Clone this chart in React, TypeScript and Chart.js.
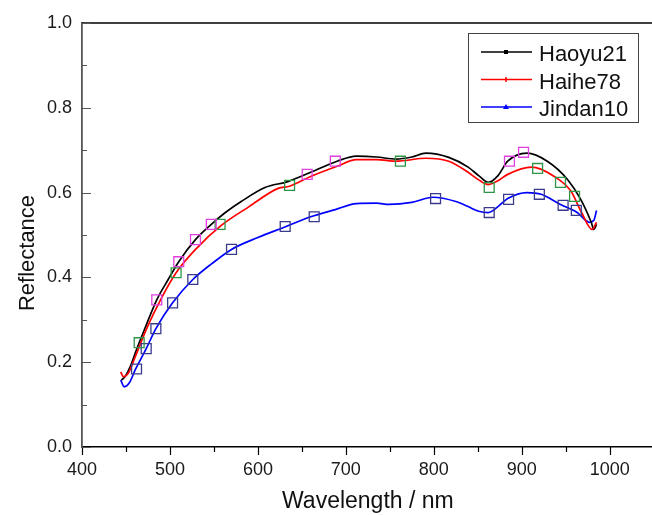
import { useEffect, useRef } from 'react';
import { Chart, registerables } from 'chart.js';

Chart.register(...registerables);

// ---- data (wavelength nm, reflectance) ----
const HAOYU_WL = [445, 449, 455, 462, 471, 485, 498, 510, 529, 547, 563, 581, 608, 634, 660, 690, 712, 735, 757, 775, 791, 817, 839, 851, 862, 873, 884, 906, 929, 952, 967, 979, 982, 985];
const HAOYU_R = [0.158, 0.166, 0.19, 0.23, 0.277, 0.347, 0.395, 0.437, 0.489, 0.525, 0.553, 0.579, 0.612, 0.626, 0.648, 0.674, 0.686, 0.684, 0.679, 0.684, 0.693, 0.683, 0.66, 0.64, 0.624, 0.64, 0.674, 0.693, 0.674, 0.631, 0.584, 0.53, 0.513, 0.525];

const HAIHE_WL = [444, 447, 452, 460, 473, 490, 507, 530, 558, 590, 623, 636, 660, 690, 712, 735, 757, 791, 817, 839, 851, 862, 873, 884, 911, 937, 956, 968, 980, 985];
const HAIHE_R = [0.177, 0.166, 0.172, 0.21, 0.277, 0.35, 0.411, 0.468, 0.522, 0.567, 0.61, 0.615, 0.638, 0.662, 0.678, 0.678, 0.674, 0.681, 0.674, 0.648, 0.63, 0.619, 0.628, 0.643, 0.66, 0.638, 0.603, 0.553, 0.513, 0.53];

const JINDAN_WL = [444, 448, 454, 461, 473, 484, 503, 526, 548, 570, 600, 632, 660, 688, 712, 735, 749, 775, 799, 825, 839, 851, 862, 873, 884, 906, 922, 944, 963, 977, 982, 985];
const JINDAN_R = [0.158, 0.142, 0.152, 0.184, 0.232, 0.279, 0.34, 0.395, 0.433, 0.466, 0.494, 0.52, 0.543, 0.56, 0.574, 0.575, 0.572, 0.577, 0.589, 0.579, 0.567, 0.556, 0.553, 0.567, 0.586, 0.6, 0.596, 0.572, 0.553, 0.53, 0.535, 0.558];

// hollow square markers
const PINK_WL = [485, 510, 529, 547, 656, 688, 886, 902];
const PINK_R = [0.347, 0.437, 0.489, 0.525, 0.643, 0.674, 0.674, 0.695];
const GREEN_WL = [465, 507, 557, 636, 762, 863, 918, 944, 960];
const GREEN_R = [0.246, 0.411, 0.525, 0.617, 0.674, 0.612, 0.657, 0.624, 0.591];
const NAVY_WL = [462, 473, 484, 503, 526, 570, 631, 664, 802, 863, 885, 920, 947, 962];
const NAVY_R = [0.184, 0.232, 0.279, 0.34, 0.395, 0.466, 0.52, 0.543, 0.586, 0.553, 0.584, 0.596, 0.57, 0.558];

const X_TICKS = [400, 500, 600, 700, 800, 900, 1000];
const X_MINOR = [450, 550, 650, 750, 850, 950, 1050];
const Y_TICKS = [0, 0.2, 0.4, 0.6, 0.8, 1.0];
const Y_MINOR = [0.1, 0.3, 0.5, 0.7, 0.9];

const SERIES_NAMES = ['Haoyu21', 'Haihe78', 'Jindan10'];
const SERIES_COLORS = ['#000000', '#ff0000', '#0000ff'];

const FONT = '"Liberation Sans", Arial, sans-serif';

const zip = (xs: number[], ys: number[]) => xs.map((x, i) => ({ x, y: ys[i] }));

const framePlugin = {
  id: 'frame',
  afterDraw(chart: any) {
    const { ctx, chartArea: a, scales } = chart;
    const xs = scales.x;
    const ys = scales.y;
    ctx.save();
    // top frame line
    ctx.strokeStyle = '#000';
    ctx.lineWidth = 1.5;
    ctx.beginPath();
    ctx.moveTo(a.left, a.top);
    ctx.lineTo(a.right, a.top);
    ctx.stroke();
    // x ticks (outward)
    ctx.lineWidth = 1.2;
    ctx.beginPath();
    X_TICKS.forEach((v) => {
      const p = Math.round(xs.getPixelForValue(v)) + 0.5;
      ctx.moveTo(p, a.bottom);
      ctx.lineTo(p, a.bottom + 8);
    });
    X_MINOR.forEach((v) => {
      const p = Math.round(xs.getPixelForValue(v)) + 0.5;
      ctx.moveTo(p, a.bottom);
      ctx.lineTo(p, a.bottom + 5);
    });
    ctx.stroke();
    // y ticks (inward)
    ctx.strokeStyle = '#555';
    ctx.beginPath();
    Y_TICKS.forEach((v) => {
      const p = Math.round(ys.getPixelForValue(v)) + 0.5;
      ctx.moveTo(a.left, p);
      ctx.lineTo(a.left + 9, p);
    });
    Y_MINOR.forEach((v) => {
      const p = Math.round(ys.getPixelForValue(v)) + 0.5;
      ctx.moveTo(a.left, p);
      ctx.lineTo(a.left + 5, p);
    });
    ctx.stroke();

    // y title
    ctx.save();
    ctx.fillStyle = '#111';
    ctx.font = `22px ${FONT}`;
    ctx.translate(a.left - 54, (a.top + a.bottom) / 2 + 18);
    ctx.rotate(-Math.PI / 2);
    ctx.textAlign = 'center';
    ctx.textBaseline = 'middle';
    ctx.fillText('Reflectance', 0, 0);
    ctx.restore();

    // legend
    const bx = 468.5, by = 33.5, bw = 170, bh = 89;
    ctx.fillStyle = '#fff';
    ctx.fillRect(bx, by, bw, bh);
    ctx.strokeStyle = '#444';
    ctx.lineWidth = 1;
    ctx.strokeRect(bx, by, bw, bh);
    ctx.font = `22px ${FONT}`;
    ctx.textAlign = 'left';
    ctx.textBaseline = 'alphabetic';
    SERIES_NAMES.forEach((name, i) => {
      const ly = 52 + i * 27.5;
      const col = SERIES_COLORS[i];
      ctx.strokeStyle = col;
      ctx.lineWidth = 1.5;
      ctx.beginPath();
      ctx.moveTo(481, ly);
      ctx.lineTo(532, ly);
      ctx.stroke();
      ctx.fillStyle = col;
      const mx = 506;
      if (i === 0) {
        ctx.fillRect(mx - 2, ly - 2, 4, 4);
      } else if (i === 1) {
        ctx.fillRect(mx - 0.75, ly - 2.5, 1.5, 5);
      } else {
        ctx.beginPath();
        ctx.moveTo(mx, ly - 3);
        ctx.lineTo(mx + 3, ly + 2);
        ctx.lineTo(mx - 3, ly + 2);
        ctx.closePath();
        ctx.fill();
      }
      ctx.fillStyle = '#111';
      ctx.fillText(name, 539, ly + 9);
    });
    ctx.restore();
  },
};

export default function App() {
  const ref = useRef<HTMLCanvasElement | null>(null);

  useEffect(() => {
    if (!ref.current) return;
    const lineDs = (i: number, xs: number[], ys: number[]) => ({
      type: 'line' as const,
      label: SERIES_NAMES[i],
      data: zip(xs, ys),
      borderColor: SERIES_COLORS[i],
      backgroundColor: SERIES_COLORS[i],
      borderWidth: 1.7,
      pointRadius: 0,
      cubicInterpolationMode: 'monotone' as const,
      fill: false,
    });
    const sqDs = (label: string, color: string, xs: number[], ys: number[]) => ({
      type: 'line' as const,
      label,
      data: zip(xs, ys),
      showLine: false,
      pointStyle: 'rect' as const,
      pointRadius: 7,
      pointBorderWidth: 1.3,
      pointBorderColor: color,
      pointBackgroundColor: 'rgba(0,0,0,0)',
      borderColor: color,
      backgroundColor: 'rgba(0,0,0,0)',
    });

    const chart = new Chart(ref.current, {
      type: 'line',
      data: {
        datasets: [
          sqDs('pink', '#e040e0', PINK_WL, PINK_R),
          sqDs('green', '#2e9446', GREEN_WL, GREEN_R),
          sqDs('navy', '#3a3a8c', NAVY_WL, NAVY_R),
          lineDs(1, HAIHE_WL, HAIHE_R),
          lineDs(0, HAOYU_WL, HAOYU_R),
          lineDs(2, JINDAN_WL, JINDAN_R),
        ] as any,
      },
      options: {
        animation: false,
        responsive: false,
        devicePixelRatio: 1,
        layout: { padding: { top: 23, right: 1.5, left: 0, bottom: 0 } },
        plugins: { legend: { display: false }, tooltip: { enabled: false } },
        scales: {
          x: {
            type: 'linear',
            min: 400,
            max: 1050,
            grid: { display: false, drawTicks: false },
            border: { display: true, color: '#000', width: 1.5 },
            afterBuildTicks: (s: any) => {
              s.ticks = X_TICKS.map((value) => ({ value }));
            },
            afterFit: (s: any) => {
              s.height = 68;
            },
            ticks: {
              padding: 12,
              color: '#1a1a1a',
              font: { family: FONT, size: 18 },
              maxRotation: 0,
              callback: (v: any) => String(v),
            },
            title: {
              display: true,
              text: 'Wavelength / nm',
              color: '#111',
              font: { family: FONT, size: 23 },
              padding: { top: 0, bottom: 0 },
            },
          },
          y: {
            type: 'linear',
            min: 0,
            max: 1,
            grid: { display: false, drawTicks: false },
            border: { display: true, color: '#555', width: 1.8 },
            afterBuildTicks: (s: any) => {
              s.ticks = Y_TICKS.map((value) => ({ value }));
            },
            afterFit: (s: any) => {
              s.width = 82;
            },
            ticks: {
              padding: 10,
              color: '#1a1a1a',
              font: { family: FONT, size: 18 },
              callback: (v: any) => Number(v).toFixed(1),
            },
          },
        },
      },
      plugins: [framePlugin],
    });
    return () => chart.destroy();
  }, []);

  return (
    <div style={{ position: 'absolute', left: 0, top: 0, width: 652, height: 515, overflow: 'hidden', background: '#fff' }}>
      <canvas ref={ref} width={662} height={515} style={{ display: 'block' }} />
    </div>
  );
}
